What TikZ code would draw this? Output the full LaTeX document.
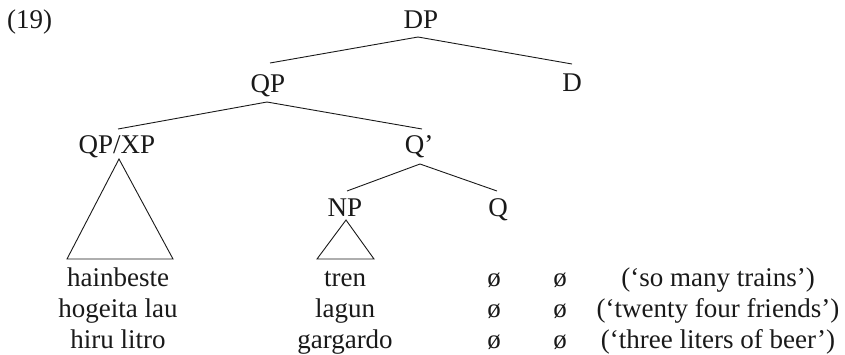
\documentclass[tikz,border=0pt]{standalone}
\usepackage{fontspec}
\setmainfont{Liberation Serif}
\usetikzlibrary{calc}
\begin{document}
\begin{tikzpicture}[x=1pt,y=-1pt,
  every node/.style={font=\fontsize{27}{30}\selectfont, inner sep=0pt, anchor=base, text=black!90},
  branch/.style={line width=0.9pt, draw=black!90},
]
\useasboundingbox (0,0) rectangle (845,354);
\node (ex) [anchor=base west] at (7,28) {(19)};
% tree labels
\node (DP) at (421,28) {DP};
\node (QP) at (268,92) {QP};
\node (D) at (572,91) {D};
\node (QPXP) at (117,153) {QP/XP};
\node (Qbar) at (419,153) {Q’};
\node (NP) at (345,216) {NP};
\node (Q) at (498,216) {Q};
% branches
\draw[branch] ($(QP.base)+(2,-29)$) -- ($(DP.base)+(-3,9)$) -- ($(D.base)+(0,-27)$);
\draw[branch] ($(QPXP.base)+(1,-24)$) -- ($(QP.base)+(-1,10)$) -- ($(Qbar.base)+(3,-24)$);
\draw[branch] ($(NP.base)+(2,-25)$) -- ($(Qbar.base)+(1,11)$) -- ($(Q.base)+(-1,-25)$);
% triangles
\coordinate (t1) at ($(QPXP.base)+(2,6)$);
\draw[branch] (t1) -- ++(-52,100) -- ++(106,0) -- cycle;
\coordinate (t2) at ($(NP.base)+(1,4)$);
\draw[branch] (t2) -- ++(-29,39) -- ++(57,0) -- cycle;
% rows
\node (a1) at (118,286) {hainbeste};
\node (a2) at (118,317) {hogeita lau};
\node (a3) at (118,348) {hiru litro};
\node (b1) at (345,286) {tren};
\node (b2) at (345,317) {lagun};
\node (b3) at (345,348) {gargardo};
\node (c1) at (494,286) {ø};
\node (c2) at (494,317) {ø};
\node (c3) at (494,348) {ø};
\node (d1) at (560,286) {ø};
\node (d2) at (560,317) {ø};
\node (d3) at (560,348) {ø};
\node (e1) at (718,286) {(‘so many trains’)};
\node (e2) at (718,317) {(‘twenty four friends’)};
\node (e3) at (718,348) {(‘three liters of beer’)};
\end{tikzpicture}
\end{document}
